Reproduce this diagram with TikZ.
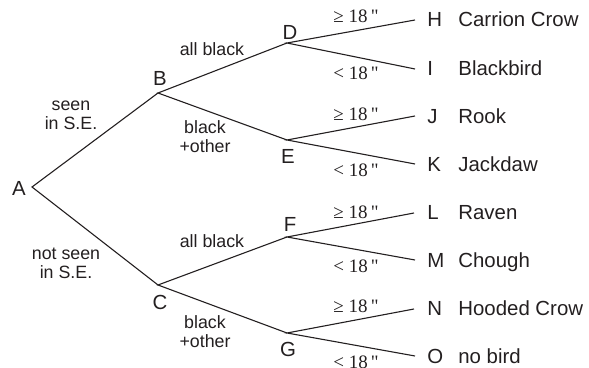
\documentclass[tikz,border=0pt]{standalone}
\usepackage{fontspec}
\setmainfont{Liberation Sans}
\newfontfamily\ineqfont{Liberation Serif}
\definecolor{ink}{RGB}{35,31,32}

\begin{document}
\begin{tikzpicture}[x=0.5pt, y=-0.5pt,
    branch/.style={draw=ink, line width=0.55pt},
    letter/.style={text=ink, inner sep=0pt, font=\fontsize{10.2}{12}\selectfont},
    bird/.style={text=ink, inner sep=0pt, anchor=base west, font=\fontsize{10.2}{12}\selectfont},
    choice/.style={text=ink, inner sep=0pt, align=center, font=\fontsize{8.9}{9.5}\selectfont},
    size/.style={text=ink, inner sep=0pt, anchor=base, font=\ineqfont\fontsize{9.5}{11}\selectfont}]
    \useasboundingbox (0,0) rectangle (589,368);

    % branch points
    \coordinate (A) at (32,187);
    \coordinate (B) at (158,93);
    \coordinate (C) at (158,285);
    \coordinate (D) at (287,43);
    \coordinate (E) at (287,140);
    \coordinate (F) at (287,237);
    \coordinate (G) at (287,333);
    % leaves
    \coordinate (H) at (415,20);
    \coordinate (I) at (415,69);
    \coordinate (J) at (415,116);
    \coordinate (K) at (415,164);
    \coordinate (L) at (414,213);
    \coordinate (M) at (415,260);
    \coordinate (N) at (414,309);
    \coordinate (O) at (415,356);

    % tree
    \draw[branch] (B) -- (A) -- (C);
    \draw[branch] (D) -- (B) -- (E);
    \draw[branch] (F) -- (C) -- (G);
    \draw[branch] (H) -- (D) -- (I);
    \draw[branch] (J) -- (E) -- (K);
    \draw[branch] (L) -- (F) -- (M);
    \draw[branch] (N) -- (G) -- (O);

    % node letters
    \node[letter] (A-l) at (19,188.5) {A};
    \node[letter] (B-l) at (160,78) {B};
    \node[letter] (C-l) at (160,302.5) {C};
    \node[letter] (D-l) at (290,32) {D};
    \node[letter] (E-l) at (288,156) {E};
    \node[letter] (F-l) at (290,224.5) {F};
    \node[letter] (G-l) at (288,349.5) {G};

    % branch labels
    \node[choice] (seen) at (71,115) {seen\\in S.E.};
    \node[choice] (notseen) at (66,263.5) {not seen\\in S.E.};
    \node[choice, anchor=base] (allblack1) at (212,56) {all black};
    \node[choice] (other1) at (205,137) {black\\+other};
    \node[choice, anchor=base] (allblack2) at (212,248) {all black};
    \node[choice] (other2) at (205,331.5) {black\\+other};

    \node[size] (DH) at (356,23) {≥ 18\,"};
    \node[size] (DI) at (356,80) {< 18\,"};
    \node[size] (EJ) at (356,120.5) {≥ 18\,"};
    \node[size] (EK) at (356,177) {< 18\,"};
    \node[size] (FL) at (356,219) {≥ 18\,"};
    \node[size] (FM) at (356,273) {< 18\,"};
    \node[size] (GN) at (356,313) {≥ 18\,"};
    \node[size] (GO) at (356,369) {< 18\,"};

    % leaf letters and birds
    \node[bird] (H-l) at (427,27) {H};
    \node[bird] (I-l) at (427,76) {I};
    \node[bird] (J-l) at (427,124) {J};
    \node[bird] (K-l) at (427,172) {K};
    \node[bird] (L-l) at (427,220) {L};
    \node[bird] (M-l) at (427,268) {M};
    \node[bird] (N-l) at (427,316) {N};
    \node[bird] (O-l) at (427,364) {O};

    \node[bird] (H-n) at (458,27) {Carrion Crow};
    \node[bird] (I-n) at (458,76) {Blackbird};
    \node[bird] (J-n) at (458,124) {Rook};
    \node[bird] (K-n) at (458,172) {Jackdaw};
    \node[bird] (L-n) at (458,220) {Raven};
    \node[bird] (M-n) at (458,268) {Chough};
    \node[bird] (N-n) at (458,316) {Hooded Crow};
    \node[bird] (O-n) at (458,364) {no bird};
\end{tikzpicture}
\end{document}
